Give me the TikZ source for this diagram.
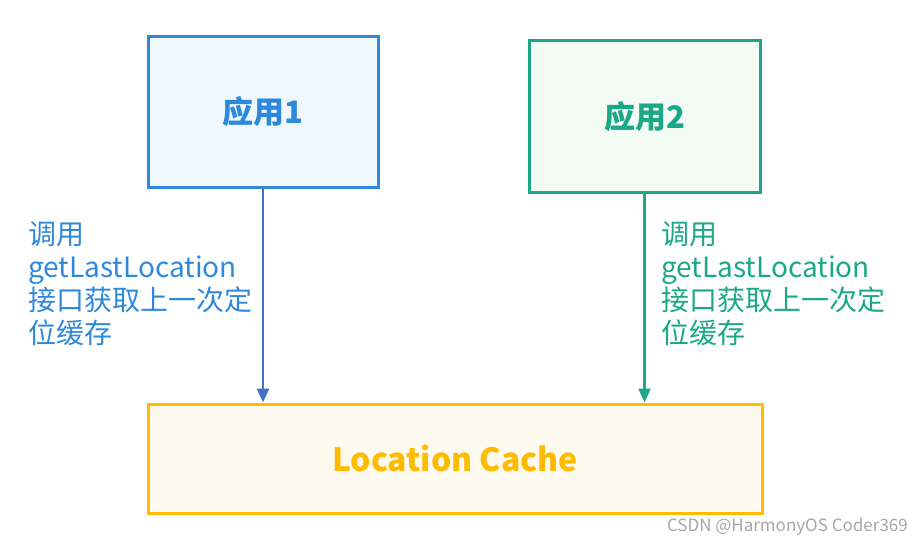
\documentclass[tikz,border=0pt]{standalone}
\usepackage{fontspec}
\setmainfont{Noto Sans CJK SC}
\usetikzlibrary{arrows.meta,calc}
\definecolor{AppOneClr}{RGB}{46,137,220}
\definecolor{AppOneFill}{RGB}{240,248,255}
\definecolor{ArrowOneClr}{RGB}{68,114,196}
\definecolor{AppTwoClr}{RGB}{26,168,136}
\definecolor{AppTwoFill}{RGB}{243,251,245}
\definecolor{CacheClr}{RGB}{255,187,0}
\definecolor{CacheFill}{RGB}{255,250,240}

\begin{document}
\begin{tikzpicture}[x=1pt,y=-1pt,
  appbox/.style={draw,line width=3pt,inner sep=0pt,font=\fontsize{31}{36}\selectfont\bfseries},
  calltext/.style={anchor=west,inner sep=0pt,align=left,font=\fontsize{28}{33}\selectfont},
  callline/.style={line width=2.5pt,-{Triangle[width=12pt,length=14pt]}}]
\useasboundingbox (0,0) rectangle (913,543);

\node[appbox,color=AppOneClr,fill=AppOneFill,minimum width=230pt,minimum height=150pt] (app1) at (263,112) {应用1};
\node[appbox,color=AppTwoClr,fill=AppTwoFill,minimum width=231pt,minimum height=151pt] (app2) at (644.5,116.5) {应用2};
\node[appbox,color=CacheClr,fill=CacheFill,minimum width=614pt,minimum height=109pt,font=\fontsize{32}{38}\selectfont\bfseries] (cache) at (455,458.5) {Location Cache};

\draw[callline,ArrowOneClr] (app1.south) -- (app1.south |- cache.north);
\draw[callline,AppTwoClr] (app2.south) -- (app2.south |- cache.north);

\node[calltext,text=AppOneClr] (call1) at (28,284) {调用\\getLastLocation\\接口获取上一次定\\位缓存};
\node[calltext,text=AppTwoClr] (call2) at (661,284) {调用\\getLastLocation\\接口获取上一次定\\位缓存};

\node[anchor=east,inner sep=0pt,text=black!35,font=\fontsize{17}{20}\selectfont] (mark) at (908,527) {CSDN @HarmonyOS Coder369};

\end{tikzpicture}
\end{document}
